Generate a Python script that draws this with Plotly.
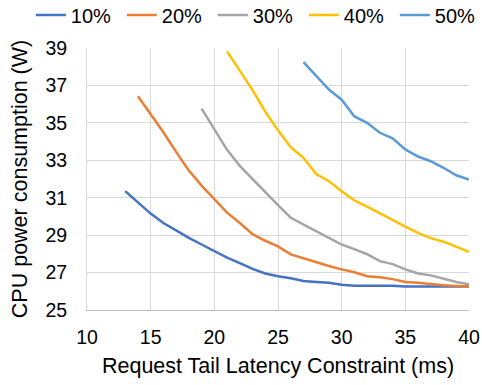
import plotly.graph_objects as go

FONT = "Arial, Liberation Sans, sans-serif"

x_10 = list(range(13, 41))
y_10 = [31.35, 30.75, 30.15, 29.65, 29.25, 28.85, 28.5, 28.15, 27.8, 27.5,
        27.2, 26.95, 26.8, 26.7, 26.55, 26.5, 26.45, 26.35, 26.3, 26.3,
        26.3, 26.3, 26.25, 26.25, 26.25, 26.25, 26.25, 26.25]

x_20 = list(range(14, 41))
y_20 = [36.42, 35.44, 34.5, 33.45, 32.45, 31.65, 30.95, 30.2, 29.65, 29.05,
        28.7, 28.4, 27.97, 27.75, 27.55, 27.35, 27.17, 27.02, 26.8, 26.75,
        26.65, 26.5, 26.45, 26.37, 26.32, 26.28, 26.25]

x_30 = list(range(19, 41))
y_30 = [35.76, 34.64, 33.56, 32.7, 32.0, 31.25, 30.6, 29.93, 29.57, 29.2,
        28.85, 28.5, 28.25, 27.98, 27.61, 27.45, 27.17, 26.95, 26.85, 26.67,
        26.5, 26.37]

x_40 = list(range(21, 41))
y_40 = [38.82, 37.8, 36.75, 35.6, 34.6, 33.7, 33.13, 32.26, 31.88, 31.35,
        30.85, 30.52, 30.15, 29.8, 29.45, 29.12, 28.84, 28.65, 28.4, 28.11]

x_50 = list(range(27, 41))
y_50 = [38.25, 37.5, 36.78, 36.24, 35.34, 35.0, 34.47, 34.17, 33.58, 33.2,
        32.95, 32.6, 32.2, 31.97]

series = [
    ("10%", x_10, y_10, "#4472C4"),
    ("20%", x_20, y_20, "#ED7D31"),
    ("30%", x_30, y_30, "#A5A5A5"),
    ("40%", x_40, y_40, "#FFC000"),
    ("50%", x_50, y_50, "#5B9BD5"),
]

fig = go.Figure()
for name, xs, ys, color in series:
    fig.add_trace(go.Scatter(x=xs, y=ys, name=name, mode="lines",
                             line=dict(color=color, width=2.5)))

fig.update_layout(
    width=482, height=385,
    margin=dict(l=87, r=13, t=48, b=75, autoexpand=False),
    paper_bgcolor="white", plot_bgcolor="white",
    font=dict(family=FONT, size=19.5, color="#000000"),
    legend=dict(orientation="h", x=-0.147, xanchor="left", y=1.2, yanchor="top",
                font=dict(size=20), entrywidth=46, entrywidthmode="pixels",
                tracegroupgap=0, bgcolor="rgba(0,0,0,0)"),
    showlegend=True,
)
fig.update_xaxes(range=[10, 40], dtick=5, tick0=10, automargin=False,
                 showgrid=True, gridcolor="#D9D9D9", gridwidth=1,
                 showline=True, linecolor="#BFBFBF", linewidth=1,
                 zeroline=False, ticks="", ticklabelstandoff=10,
                 title=dict(text="Request Tail Latency Constraint (ms)",
                            font=dict(size=21.5), standoff=10))
fig.update_yaxes(range=[25, 39], dtick=2, tick0=25, automargin=False,
                 showgrid=True, gridcolor="#D9D9D9", gridwidth=1,
                 showline=True, linecolor="#D9D9D9", linewidth=1,
                 zeroline=False, ticks="", ticklabelstandoff=15,
                 title=dict(text="CPU power consumption (W)",
                            font=dict(size=21.5), standoff=11))

# page body has a default margin; drop it so the figure sits at the corner
fig.write_html("out.html", config={"displayModeBar": False},
               post_script="document.body.style.margin='0';")
